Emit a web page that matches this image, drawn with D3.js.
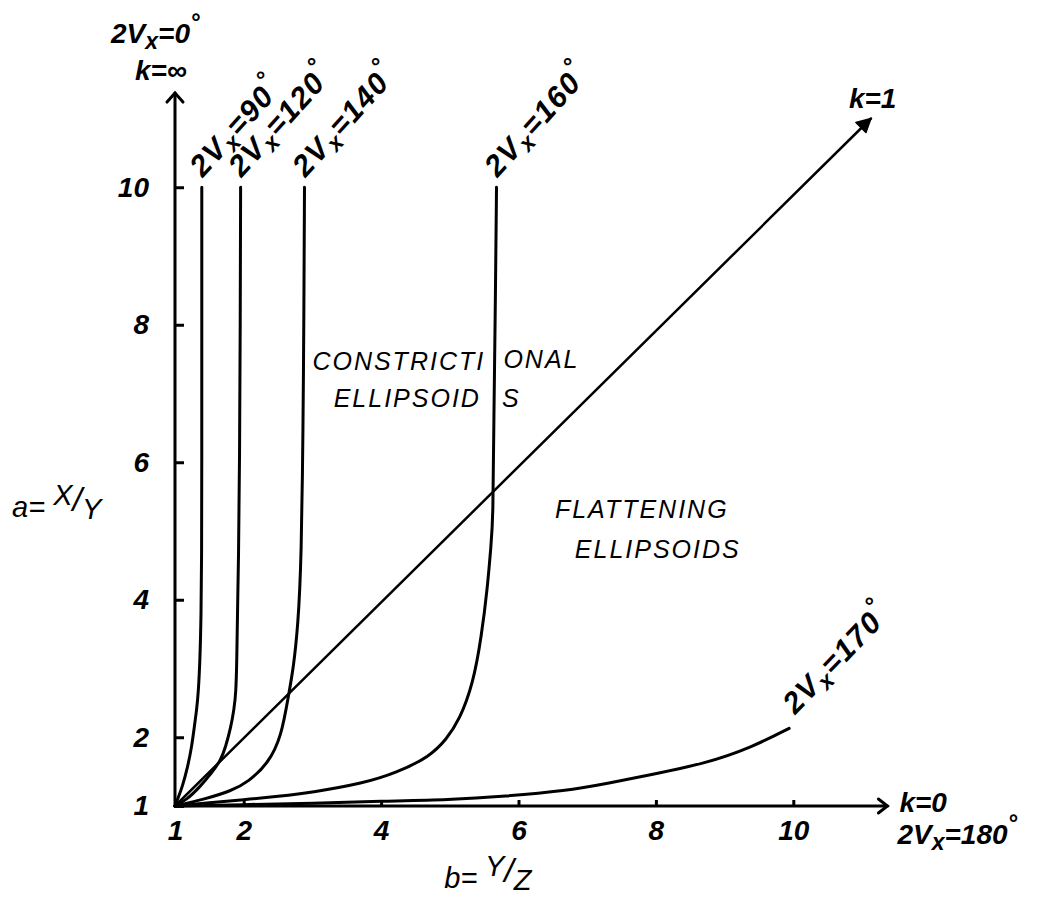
<!DOCTYPE html>
<html>
<head>
<meta charset="utf-8">
<script src="https://cdn.jsdelivr.net/npm/d3@7"></script>
<style>
  body { margin: 0; background: #fff; }
  svg { display: block; }
  text { font-family: "Liberation Sans", Arial, sans-serif; font-style: italic; fill: #000; }
</style>
</head>
<body>
<svg id="chart" width="1037" height="898"></svg>
<script>
// b = Y/Z along the bottom, a = X/Y up the side
const bTicks = [1, 2, 4, 6, 8, 10];
const aTicks = [1, 2, 4, 6, 8, 10];
const axisMax = 11.37;

// 2Vx curves, [b, a] pairs
const curve90 = [[1, 1], [1.05, 1.13], [1.107, 1.28], [1.185, 1.57], [1.243, 1.86], [1.281, 2.15], [1.315, 2.4],
  [1.339, 2.64], [1.364, 3.12], [1.38, 3.8], [1.388, 4.58], [1.39, 6], [1.39, 8], [1.39, 10]];
const curve120 = [[1, 1], [1.17, 1.09], [1.364, 1.28], [1.533, 1.48], [1.669, 1.67], [1.737, 1.86], [1.814, 2.15],
  [1.858, 2.4], [1.887, 2.64], [1.9, 3.12], [1.91, 3.85], [1.925, 4.58], [1.94, 6], [1.95, 8], [1.955, 10]];
const curve140 = [[1, 1], [1.436, 1.1], [1.82, 1.22], [2.066, 1.35], [2.357, 1.62], [2.55, 2.01], [2.657, 2.64],
  [2.72, 2.98], [2.79, 3.61], [2.84, 4.58], [2.865, 6.61], [2.875, 8], [2.885, 10]];
const curve160 = [[1, 1], [1.5, 1.05], [2, 1.09], [2.5, 1.14], [3.01, 1.2], [3.74, 1.33], [4.22, 1.48], [4.71, 1.72],
  [4.95, 1.97], [5.14, 2.25], [5.34, 2.78], [5.46, 3.46], [5.55, 4.19], [5.6, 4.8], [5.63, 5.16], [5.64, 6.6],
  [5.66, 8], [5.68, 10]];
const curve170 = [[1, 1], [2, 1.02], [3, 1.04], [4, 1.07], [5, 1.09], [5.8, 1.14], [6.69, 1.22], [7.3, 1.33],
  [7.9, 1.45], [8.73, 1.62], [9.41, 1.86], [9.94, 2.13]];
const curveAngles = ["90", "120", "140", "160", "170"];
const k1Line = [[1, 1], [11.13, 11.0]];

const svg = d3.select("#chart");

const x = d3.scaleLinear().domain([1, 11]).range([175, 862]);
const y = d3.scaleLinear().domain([1, 11]).range([806, 118.5]);

// ticks + numbers
svg.append("g")
  .attr("transform", `translate(0,${y(1)})`)
  .call(d3.axisBottom(x).tickValues(bTicks).tickSizeInner(-6).tickSizeOuter(0).tickPadding(14))
  .call(g => g.select(".domain").remove())
  .call(g => g.selectAll("line").attr("stroke", "#000").attr("stroke-width", 3))
  .call(g => g.selectAll("text").style("font-size", "28px").style("font-weight", "bold"));

svg.append("g")
  .attr("transform", `translate(${x(1)},0)`)
  .call(d3.axisLeft(y).tickValues(aTicks).tickSizeInner(-9).tickSizeOuter(0).tickPadding(26))
  .call(g => g.select(".domain").remove())
  .call(g => g.selectAll("line").attr("stroke", "#000").attr("stroke-width", 3))
  .call(g => g.selectAll("text").style("font-size", "28px").style("font-weight", "bold"));

// axis lines with open arrow heads
const ink = svg.append("g").attr("fill", "none").attr("stroke", "#000").attr("stroke-linecap", "round");
ink.append("line")
  .attr("x1", x(1)).attr("y1", y(1)).attr("x2", x(1)).attr("y2", y(axisMax))
  .attr("stroke-width", 3);
ink.append("path")
  .attr("d", `M${x(1) - 8},${y(axisMax) + 9}L${x(1)},${y(axisMax)}L${x(1) + 8},${y(axisMax) + 9}`)
  .attr("stroke-width", 3);
ink.append("line")
  .attr("x1", x(1)).attr("y1", y(1)).attr("x2", x(axisMax)).attr("y2", y(1))
  .attr("stroke-width", 3);
ink.append("path")
  .attr("d", `M${x(axisMax) - 9},${y(1) - 7}L${x(axisMax)},${y(1)}L${x(axisMax) - 9},${y(1) + 7}`)
  .attr("stroke-width", 3);

// k = 1 diagonal
const kx = x(k1Line[1][0]), ky = y(k1Line[1][1]);
ink.append("line")
  .attr("x1", x(k1Line[0][0])).attr("y1", y(k1Line[0][1])).attr("x2", kx).attr("y2", ky)
  .attr("stroke-width", 2.5);
svg.append("path")
  .attr("d", `M${kx},${ky}L${kx - 15},${ky + 4}L${kx - 5},${ky + 14}Z`)
  .attr("fill", "#000").attr("stroke", "#000").attr("stroke-width", 1.5).attr("stroke-linejoin", "round");

// the 2Vx curves, smoothed like the pen drawing
const line = d3.line().x(d => x(d[0])).y(d => y(d[1])).curve(d3.curveBasis);
const curves = [curve90, curve120, curve140, curve160, curve170];
ink.selectAll(".vcurve")
  .data(curves)
  .join("path")
  .attr("class", "vcurve")
  .attr("d", line)
  .attr("stroke-width", 3);

function vLabel(t, angle) {
  t.append("tspan").text("2V");
  t.append("tspan").attr("dy", 6).style("font-size", "23px").text("x");
  t.append("tspan").attr("dy", -6).text("=" + angle);
  t.append("tspan").attr("dy", -13).style("font-size", "24px").text("°");
}

curves.forEach((c, i) => {
  const end = c[c.length - 1];
  const tilt = i === 4 ? -46 : -48;
  const dx = i === 4 ? 6 : 1, dy = i === 4 ? -13 : -9;
  const t = svg.append("text")
    .attr("transform", `translate(${x(end[0]) + dx},${y(end[1]) + dy}) rotate(${tilt})`)
    .style("font-size", "30px").style("font-weight", "bold").style("letter-spacing", "1.5px");
  vLabel(t, curveAngles[i]);
});

// end labels
const topLab = svg.append("text")
  .attr("x", x(1) - 64).attr("y", y(axisMax) - 50)
  .style("font-size", "28px").style("font-weight", "bold");
vLabel(topLab, "0");
svg.append("text")
  .attr("x", x(1) - 40).attr("y", y(axisMax) - 13)
  .style("font-size", "28px").style("font-weight", "bold")
  .text("k=∞");

svg.append("text")
  .attr("x", kx - 22).attr("y", ky - 11)
  .style("font-size", "28px").style("font-weight", "bold")
  .text("k=1");

svg.append("text")
  .attr("x", x(axisMax) + 12).attr("y", y(1) + 6)
  .style("font-size", "28px").style("font-weight", "bold")
  .text("k=0");
const botLab = svg.append("text")
  .attr("x", x(axisMax) + 10).attr("y", y(1) + 38)
  .style("font-size", "28px").style("font-weight", "bold");
vLabel(botLab, "180");

// axis titles
function ratioTitle(px, py, lead, num, den) {
  const t = svg.append("text").attr("x", px).attr("y", py)
    .style("font-size", "29px");
  t.append("tspan").text(lead + " ");
  t.append("tspan").attr("dy", -12).text(num);
  t.append("tspan").attr("dy", 6).style("font-size", "34px").text("/");
  t.append("tspan").attr("dy", 8).text(den);
}
ratioTitle(x(1) - 163, y(5.2), "a=", "X", "Y");
ratioTitle(x(4.92), y(1) + 82, "b=", "Y", "Z");

// region captions
const caption = (b, a, s) => svg.append("text")
  .attr("x", x(b)).attr("y", y(a))
  .style("font-size", "25px").style("letter-spacing", "2px")
  .text(s);
caption(3.0, 7.34, "CONSTRICTI");
caption(5.78, 7.37, "ONAL");
caption(3.31, 6.8, "ELLIPSOID");
caption(5.76, 6.8, "S");
caption(6.53, 5.19, "FLATTENING");
caption(6.82, 4.61, "ELLIPSOIDS");
</script>
</body>
</html>
